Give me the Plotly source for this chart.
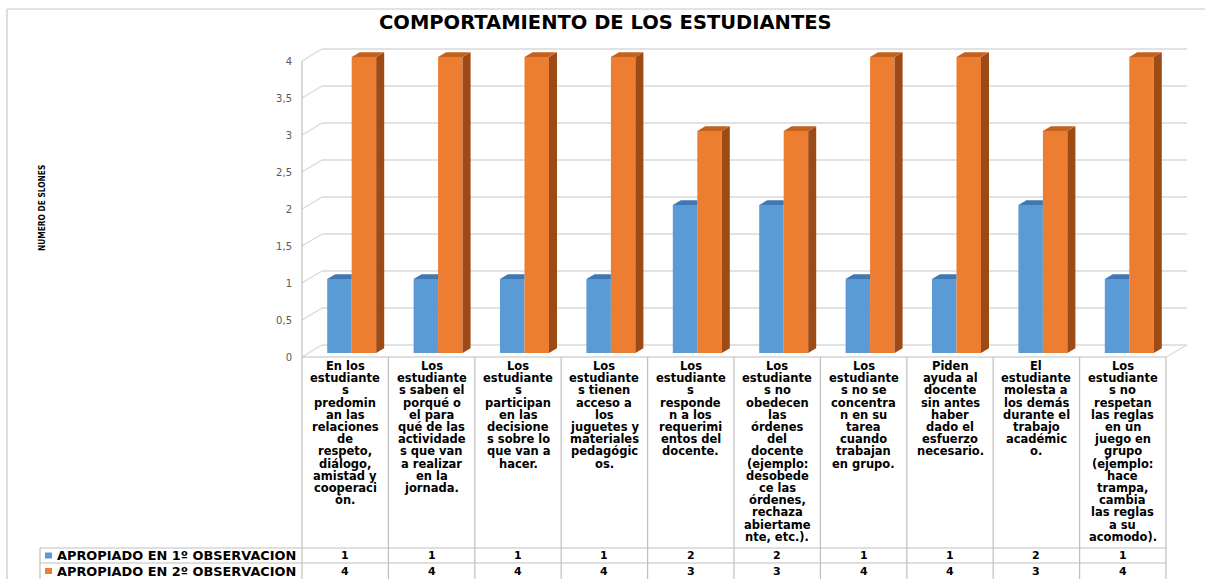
import plotly.graph_objects as go

# ---------------- data ----------------
title_text = "COMPORTAMIENTO DE LOS ESTUDIANTES"
y_title = "NUMERO DE SLONES"
series_names = ["APROPIADO EN 1º OBSERVACION", "APROPIADO EN 2º OBSERVACION"]

categories = [
    ["En los", "estudiante", "s", "predomin", "an las", "relaciones", "de", "respeto,",
     "diálogo,", "amistad y", "cooperaci", "ón."],
    ["Los", "estudiante", "s saben el", "porqué o", "el para", "qué de las", "actividade",
     "s que van", "a realizar", "en la", "jornada."],
    ["Los", "estudiante", "s", "participan", "en las", "decisione", "s sobre lo",
     "que van a", "hacer."],
    ["Los", "estudiante", "s tienen", "acceso a", "los", "juguetes y", "materiales",
     "pedagógic", "os."],
    ["Los", "estudiante", "s", "responde", "n a los", "requerimi", "entos del", "docente."],
    ["Los", "estudiante", "s no", "obedecen", "las", "órdenes", "del", "docente",
     "(ejemplo:", "desobede", "ce las", "órdenes,", "rechaza", "abiertame", "nte, etc.)."],
    ["Los", "estudiante", "s no se", "concentra", "n en su", "tarea", "cuando",
     "trabajan", "en grupo."],
    ["Piden", "ayuda al", "docente", "sin antes", "haber", "dado el", "esfuerzo",
     "necesario."],
    ["El", "estudiante", "molesta a", "los demás", "durante el", "trabajo",
     "académic", "o."],
    ["Los", "estudiante", "s no", "respetan", "las reglas", "en un", "juego en", "grupo",
     "(ejemplo:", "hace", "trampa,", "cambia", "las reglas", "a su", "acomodo)."],
]
obs1 = [1, 1, 1, 1, 2, 2, 1, 1, 2, 1]
obs2 = [4, 4, 4, 4, 3, 3, 4, 4, 3, 4]
y_ticks = [0, 0.5, 1, 1.5, 2, 2.5, 3, 3.5, 4]
y_tick_labels = ["0", "0,5", "1", "1,5", "2", "2,5", "3", "3,5", "4"]

# ---------------- styling / geometry ----------------
W, H = 1205, 579
BLUE, BLUE_TOP = "#5B9BD5", "#3F78B4"
ORANGE, ORANGE_TOP, ORANGE_SIDE = "#ED7D31", "#C4611D", "#9C4B16"
GRID = "#D9D9D9"
TBL = "#BFBFBF"
FONT = "DejaVu Sans"

UX, UY = 86.4, 74.0          # pixels per category / per unit value
C0, Y0 = 351.7, 353.0        # bar-plane centre of first category, bar-plane zero
XD0, XD1 = 293, 1200         # plot-area pixel extent (x)
YD0, YD1 = 40, 362           # plot-area pixel extent (y)
TX0 = 302                    # table left edge (front plane)
BARGAP = 0.433
HW = (1 - BARGAP) / 2        # single bar width (category units)
DX, DY = 8 / UX, 4.8 / UY    # bar depth
FRONT_DY = 4 / UY            # front plane is 4px below bar plane
BACK_DY = 8 / UY             # back wall is 8px above bar plane
WALL_X0, WALL_X1 = 322, 1187
ROW_TOP, ROW1, ROW2, ROW_BOT = 357, 548, 563, 579
LEG_X0 = 40


def px2x(px):
    return (px - C0) / UX


def py2v(py):
    return (Y0 - py) / UY


def xp(px):
    return px / W


def yp(py):
    return 1 - py / H


n = len(obs1)
idx = list(range(n))

fig = go.Figure()
fig.add_trace(go.Bar(x=idx, y=obs1, name=series_names[0], marker=dict(color=BLUE, line=dict(width=0)),
                     hoverinfo="skip"))
fig.add_trace(go.Bar(x=idx, y=obs2, name=series_names[1], marker=dict(color=ORANGE, line=dict(width=0)),
                     hoverinfo="skip"))

# 3-D faces built from the values
bx, by, ox, oy, sx, sy = [], [], [], [], [], []
for i, (v1, v2) in enumerate(zip(obs1, obs2)):
    bx += [i - HW, i, i, i - HW + DX, i - HW, None]
    by += [v1, v1, v1 + DY, v1 + DY, v1, None]
    ox += [i, i + HW, i + HW + DX, i + DX, i, None]
    oy += [v2, v2, v2 + DY, v2 + DY, v2, None]
    sx += [i + HW, i + HW + DX, i + HW + DX, i + HW, i + HW, None]
    sy += [0, DY, v2 + DY, v2, 0, None]
for xs, ys, col in [(bx, by, BLUE_TOP), (sx, sy, ORANGE_SIDE), (ox, oy, ORANGE_TOP)]:
    fig.add_trace(go.Scatter(x=xs, y=ys, mode="lines", fill="toself", fillcolor=col,
                             line=dict(width=0, color=col), hoverinfo="skip", showlegend=False))

shapes = []
# walls / gridlines
for v in y_ticks:
    shapes.append(dict(type="line", xref="paper", yref="y", x0=xp(TX0), x1=xp(WALL_X0),
                       y0=v - FRONT_DY, y1=v + BACK_DY, line=dict(color=GRID, width=1.3), layer="below"))
    shapes.append(dict(type="line", xref="paper", yref="y", x0=xp(WALL_X0), x1=xp(WALL_X1),
                       y0=v + BACK_DY, y1=v + BACK_DY, line=dict(color=GRID, width=1.3), layer="below"))
right_px = TX0 + UX * n
shapes.append(dict(type="line", xref="paper", yref="y", x0=xp(right_px), x1=xp(WALL_X1),
                   y0=-FRONT_DY, y1=BACK_DY, line=dict(color=GRID, width=1.3), layer="below"))
# left front edge of side wall
shapes.append(dict(type="line", xref="paper", yref="paper", x0=xp(TX0), x1=xp(TX0),
                   y0=yp(Y0 - UY * max(y_ticks) + 4), y1=yp(ROW_TOP), line=dict(color=TBL, width=1.2)))

# data table
for k in range(n + 1):
    xx = xp(TX0 + UX * k)
    shapes.append(dict(type="line", xref="paper", yref="paper", x0=xx, x1=xx,
                       y0=yp(ROW_TOP), y1=yp(ROW_BOT), line=dict(color=TBL, width=1.2)))
shapes.append(dict(type="line", xref="paper", yref="paper", x0=xp(TX0), x1=xp(right_px),
                   y0=yp(ROW_TOP), y1=yp(ROW_TOP), line=dict(color=TBL, width=1.2)))
for ry in (ROW1, ROW2):
    shapes.append(dict(type="line", xref="paper", yref="paper", x0=xp(LEG_X0), x1=xp(right_px),
                       y0=yp(ry), y1=yp(ry), line=dict(color=TBL, width=1.2)))
shapes.append(dict(type="line", xref="paper", yref="paper", x0=xp(LEG_X0), x1=xp(LEG_X0),
                   y0=yp(ROW1), y1=yp(ROW_BOT), line=dict(color=TBL, width=1.2)))
# chart border
shapes.append(dict(type="line", xref="paper", yref="paper", x0=xp(7), x1=1, y0=yp(9), y1=yp(9),
                   line=dict(color="#C8C8C8", width=1.2)))
shapes.append(dict(type="line", xref="paper", yref="paper", x0=xp(7), x1=xp(7), y0=yp(9), y1=0,
                   line=dict(color="#C8C8C8", width=1.2)))
# legend keys
for r, (ry, col) in enumerate([((ROW1 + ROW2) / 2, BLUE), ((ROW2 + ROW_BOT) / 2, ORANGE)]):
    shapes.append(dict(type="rect", xref="paper", yref="paper", x0=xp(45), x1=xp(52),
                       y0=yp(ry + 3), y1=yp(ry - 3), fillcolor=col, line=dict(width=0)))

annotations = []
annotations.append(dict(text="<b>" + title_text + "</b>", xref="paper", yref="paper",
                        x=xp(605), y=yp(23), showarrow=False, xanchor="center", yanchor="middle",
                        font=dict(family=FONT, size=19.5, color="#000000")))
annotations.append(dict(text="<b>" + y_title + "</b>", xref="paper", yref="paper",
                        x=xp(42), y=yp(208), showarrow=False, textangle=-90,
                        xanchor="center", yanchor="middle",
                        font=dict(family="Liberation Sans Narrow, DejaVu Sans Condensed, sans-serif",
                                  size=8.3, color="#000000")))
LINE_H = 12.2
for k, lines in enumerate(categories):
    cx = px2x(TX0 + UX * (k + 0.5))
    for j, ln in enumerate(lines):
        annotations.append(dict(text="<b>" + ln + "</b>", xref="x", yref="paper", x=cx,
                                y=yp(366 + LINE_H * j), showarrow=False, xanchor="center",
                                yanchor="middle", font=dict(family=FONT, size=11.5, color="#000000")))
for vals, ry in [(obs1, (ROW1 + ROW2) / 2), (obs2, (ROW2 + ROW_BOT) / 2)]:
    for k, v in enumerate(vals):
        annotations.append(dict(text="<b>%d</b>" % v, xref="x", yref="paper",
                                x=px2x(TX0 + UX * (k + 0.5)), y=yp(ry), showarrow=False,
                                xanchor="center", yanchor="middle",
                                font=dict(family=FONT, size=11, color="#000000")))
for name, ry in [(series_names[0], (ROW1 + ROW2) / 2), (series_names[1], (ROW2 + ROW_BOT) / 2)]:
    annotations.append(dict(text="<b>" + name + "</b>", xref="paper", yref="paper",
                            x=xp(55), y=yp(ry), showarrow=False, xanchor="left", yanchor="middle",
                            font=dict(family=FONT, size=12.9, color="#000000")))

fig.update_layout(
    width=W, height=H,
    margin=dict(l=0, r=0, t=0, b=0),
    paper_bgcolor="white", plot_bgcolor="rgba(0,0,0,0)",
    barmode="group", bargap=BARGAP, bargroupgap=0,
    showlegend=False,
    separators=", ",
    xaxis=dict(domain=[xp(XD0), xp(XD1)], range=[px2x(XD0), px2x(XD1)], showgrid=False,
               zeroline=False, showline=False, showticklabels=False, ticks="", fixedrange=True),
    yaxis=dict(domain=[yp(YD1), yp(YD0)], range=[py2v(YD1), py2v(YD0)], showgrid=False,
               zeroline=False, showline=False, ticks="", tickvals=y_ticks, ticktext=y_tick_labels,
               ticklabelshift=4, tickfont=dict(family=FONT, size=10, color="#595959"),
               fixedrange=True),
    shapes=shapes,
    annotations=annotations,
)

fig.write_html(
    "out.html",
    config={"displayModeBar": False},
    post_script="document.body.style.margin='0';document.body.style.overflow='hidden';"
                "document.documentElement.style.overflow='hidden';",
)
